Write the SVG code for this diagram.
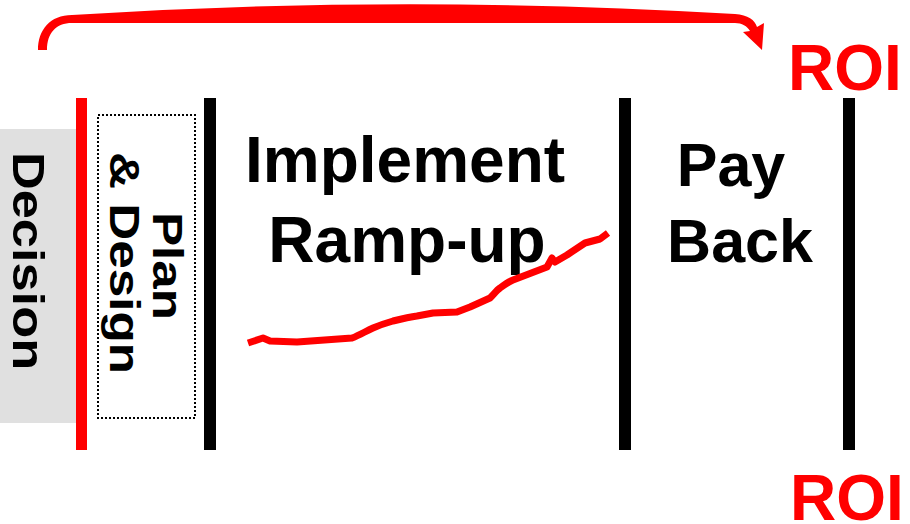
<svg xmlns="http://www.w3.org/2000/svg" width="910" height="524" viewBox="0 0 910 524">
<style>
.t{font-family:"Liberation Sans",Arial,Helvetica,sans-serif;font-weight:bold;fill:#000}
.red{fill:#ff0000}
.bar{fill:#000}
</style>
<rect width="910" height="524" fill="#fff"/>
<g id="decision">
<rect x="0" y="129" width="78" height="294" fill="#e0e0e0"/>
<text class="t" font-size="44" text-anchor="middle" transform="translate(13,261) rotate(90) scale(1.19,1)">Decision</text>
</g>
<g id="phase-lines">
<rect x="76" y="98" width="11" height="352" fill="#ff0000"/>
<rect class="bar" x="204" y="98" width="12" height="352"/>
<rect class="bar" x="619" y="98" width="12" height="352"/>
<rect class="bar" x="843" y="98" width="12" height="352"/>
</g>
<g id="plan-design">
<rect x="98" y="115" width="97" height="303" fill="none" stroke="#000" stroke-width="2" stroke-dasharray="2,2"/>
<text class="t" font-size="42" text-anchor="middle" transform="translate(153,266) rotate(90) scale(1.22,1)">Plan</text>
<text class="t" font-size="42" text-anchor="middle" transform="translate(110,263) rotate(90) scale(1.22,1)">&amp; Design</text>
</g>
<g id="implement">
<text class="t" font-size="64" text-anchor="middle" x="405" y="182">Implement</text>
<text class="t" font-size="64" text-anchor="middle" x="407" y="262">Ramp-up</text>
</g>
<g id="payback">
<text class="t" font-size="61" text-anchor="middle" x="731" y="186">Pay</text>
<text class="t" font-size="61" text-anchor="middle" x="740" y="262">Back</text>
</g>
<g id="roi-top">
<text class="t red" font-size="64" x="788" y="90">ROI</text>
</g>
<g id="roi-bottom">
<text class="t red" font-size="64" x="790" y="520">ROI</text>
</g>
<g id="connectors">
<path class="red" d="M38 50 C38 30 50 15 72 15 Q400 -6 735 14 C748 15 755 20 757 27 L764 23 L762 50 L743 32 L750 31 C747 26 742 23 735 23 L72 23 C56 23 47 33 47 50 Z"/>
<path d="M248 343 L263 338 L270 341 L297 342 L352 338 C360 335 366 331 373 328 C380 325 386 323 393 321 C401 319 409 317 417 316 L433 313 L457 312 L470 307 L490 298 C494 294 497 290 500 288 C504 285 508 282 513 280 L547 267 L552 258 L555 262 L567 255 C573 251 579 247 585 243 L600 239 L608 233" fill="none" stroke="#ff0000" stroke-width="7" stroke-linejoin="round"/>
</g>
</svg>
